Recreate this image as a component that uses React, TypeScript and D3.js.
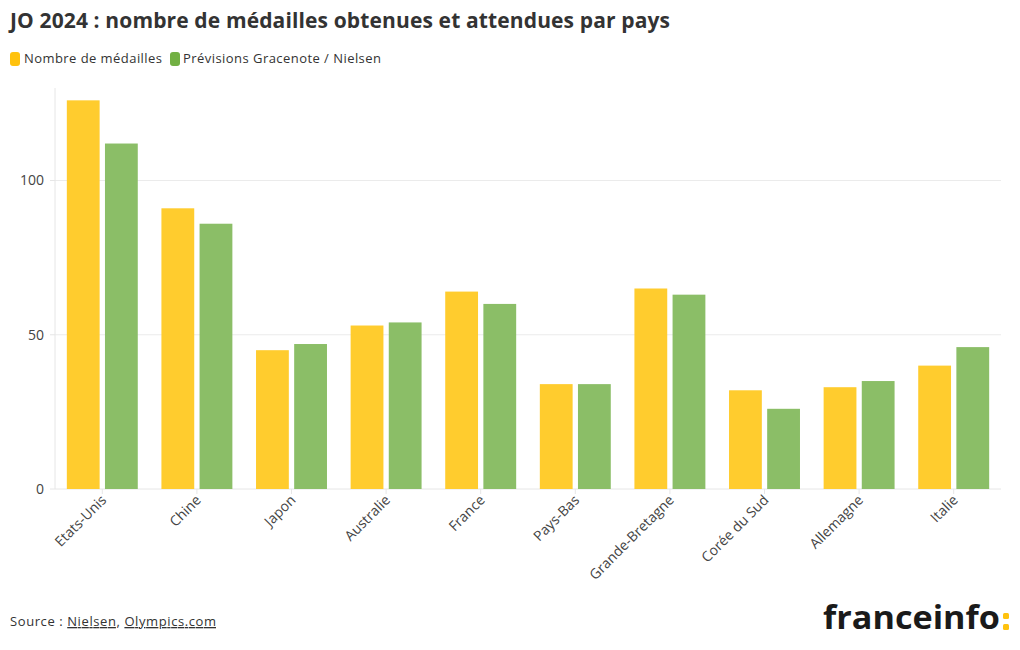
import React from "react";
import * as d3 from "d3";

const countries = ["Etats-Unis", "Chine", "Japon", "Australie", "France", "Pays-Bas", "Grande-Bretagne", "Corée du Sud", "Allemagne", "Italie"];
const medals = [126, 91, 45, 53, 64, 34, 65, 32, 33, 40];
const forecasts = [112, 86, 47, 54, 60, 34, 63, 26, 35, 46];
const seriesNames = ["Nombre de médailles", "Prévisions Gracenote / Nielsen"];
const seriesColors = ["#FFCC2E", "#8BBE67"];
const legendColors = ["#FFC20E", "#72B043"];
const yTicks = [0, 50, 100];

const W = 1020, H = 650;
const M = { left: 55, right: 1001, top: 88, bottom: 489 };
const FONT = "'Open Sans', Lato, sans-serif";

export default function App() {
  const x0 = d3.scaleBand<string>().domain(countries).range([M.left, M.right]).paddingInner(0.25).paddingOuter(0.125);
  const x1 = d3.scaleBand<number>().domain([0, 1]).range([0, x0.bandwidth()]).paddingInner(0.14);
  const y = d3.scaleLinear().domain([0, 130]).range([M.bottom, M.top]);
  const series = [medals, forecasts];

  return (
    <svg width={W} height={H} style={{ position: "absolute", left: 0, top: 0, background: "#fff" }} fontFamily={FONT}>
      <text x={10} y={28} fontSize={21} fontWeight={700} fill="#333" textLength={660} lengthAdjust="spacing">JO 2024 : nombre de médailles obtenues et attendues par pays</text>
      {/* legend */}
      <g>
        <rect x={10} y={52} width={10} height={14} rx={3} fill={legendColors[0]} />
        <text x={24} y={63} fontSize={13} fill="#333" textLength={138} lengthAdjust="spacing">{seriesNames[0]}</text>
        <rect x={170} y={52} width={10} height={14} rx={3} fill={legendColors[1]} />
        <text x={183} y={63} fontSize={13} fill="#333" textLength={198} lengthAdjust="spacing">{seriesNames[1]}</text>
      </g>
      {/* gridlines */}
      {yTicks.filter(t => t > 0).map(t => (
        <line key={t} x1={M.left} x2={M.right} y1={y(t)} y2={y(t)} stroke="#ebebeb" strokeWidth={1} />
      ))}
      <line x1={M.left} x2={M.left} y1={M.top} y2={M.bottom} stroke="#e6e6e6" />
      <line x1={M.left} x2={M.right} y1={M.bottom} y2={M.bottom} stroke="#e6e6e6" />
      {yTicks.map(t => (
        <g key={t}>
          <line x1={M.left - 5} x2={M.left} y1={y(t)} y2={y(t)} stroke="#e6e6e6" />
          <text x={44} y={y(t)} dy="0.35em" textAnchor="end" fontSize={14} fill="#444">{t}</text>
        </g>
      ))}
      {/* bars */}
      {countries.map((c, i) => (
        <g key={c} transform={`translate(${x0(c)},0)`}>
          {series.map((s, j) => (
            <rect key={j} x={x1(j)} y={y(s[i])} width={x1.bandwidth()} height={y(0) - y(s[i])} fill={seriesColors[j]} />
          ))}
        </g>
      ))}
      {/* x axis labels */}
      {countries.map(c => {
        const cx = (x0(c) as number) + x0.bandwidth() / 2;
        return (
          <g key={c}>
            <line x1={cx} x2={cx} y1={M.bottom} y2={M.bottom + 5} stroke="#e6e6e6" />
            <text transform={`translate(${cx + 5},${M.bottom + 12}) rotate(-45)`} textAnchor="end" fontSize={14} fill="#444">{c}</text>
          </g>
        );
      })}
      {/* footer */}
      <text x={10} y={626} fontSize={13} fill="#333" textLength={206} lengthAdjust="spacing">
        Source : <tspan textDecoration="underline">Nielsen</tspan>, <tspan textDecoration="underline">Olympics.com</tspan>
      </text>
      <text x={823} y={629} fontSize={32} fontWeight={700} fill="#1a1a1a" textLength={177} lengthAdjust="spacingAndGlyphs">
        franceinfo
      </text>
      <rect x={1003} y={613} width={6} height={6} rx={1.5} fill="#FFC20E" />
      <rect x={1003} y={624} width={6} height={6} rx={1.5} fill="#FFC20E" />
    </svg>
  );
}
